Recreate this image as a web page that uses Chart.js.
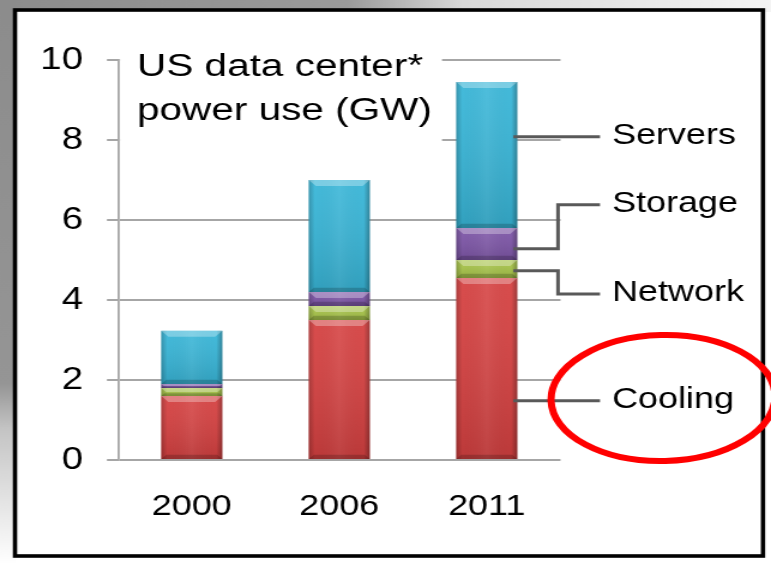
<!DOCTYPE html>
<html>
<head>
<meta charset="utf-8">
<script src="https://cdn.jsdelivr.net/npm/chart.js@4.4.1/dist/chart.umd.min.js"></script>
<style>
  html, body { margin: 0; padding: 0; background: #fff; overflow: hidden; }
  /* the slide was stretched sideways, so the canvas is too */
  #wrap { width: 643px; height: 564px; transform: scaleX(1.19907); transform-origin: 0 0; }
  canvas { display: block; }
</style>
</head>
<body>
<div id="wrap"><canvas id="chart" width="643" height="564"></canvas></div>
<script>
const years = ["2000", "2006", "2011"];
const cooling = [1.6, 3.5, 4.55];
const network = [0.2, 0.35, 0.45];
const storage = [0.1, 0.35, 0.8];
const servers = [1.33, 2.8, 3.65];
const titleLines = ["US data center*", "power use (GW)"];

// leader lines on the right: where they touch the 2011 bar, and where the label sits
const leaders = [
  { name: "Cooling", at: 1.48, line: 1.48 },
  { name: "Network", at: 4.73, line: 4.15 },
  { name: "Storage", at: 5.28, line: 6.38 },
  { name: "Servers", at: 8.08, line: 8.08 }
];

const SX = 771 / 643;
const px = x => x / SX;   // reference x -> canvas x
const FONT = "'Liberation Sans', Arial, sans-serif";

function bevel(ctx, bar) {
  const l = bar.x - bar.width / 2, r = bar.x + bar.width / 2;
  const t = Math.min(bar.y, bar.base), b = Math.max(bar.y, bar.base);
  const h = b - t;
  if (h <= 0) return;
  const e = Math.min(6, h / 2);

  let g = ctx.createLinearGradient(l, 0, r, 0);
  g.addColorStop(0, "rgba(0,0,0,0.22)");
  g.addColorStop(0.1, "rgba(0,0,0,0)");
  g.addColorStop(0.5, "rgba(255,255,255,0.06)");
  g.addColorStop(0.9, "rgba(0,0,0,0)");
  g.addColorStop(1, "rgba(0,0,0,0.3)");
  ctx.fillStyle = g;
  ctx.fillRect(l, t, r - l, h);

  g = ctx.createLinearGradient(0, t, 0, b);
  g.addColorStop(0, "rgba(255,255,255,0.06)");
  g.addColorStop(1, "rgba(0,0,0,0.12)");
  ctx.fillStyle = g;
  ctx.fillRect(l, t, r - l, h);

  ctx.fillStyle = "rgba(255,255,255,0.3)";
  ctx.beginPath();
  ctx.moveTo(l, t); ctx.lineTo(r, t); ctx.lineTo(r - e, t + e); ctx.lineTo(l + e, t + e);
  ctx.closePath(); ctx.fill();

  ctx.fillStyle = "rgba(0,0,0,0.18)";
  ctx.beginPath();
  ctx.moveTo(l, b); ctx.lineTo(r, b); ctx.lineTo(r - e * 0.7, b - e * 0.7); ctx.lineTo(l + e * 0.7, b - e * 0.7);
  ctx.closePath(); ctx.fill();
}

const deco = {
  id: "deco",
  beforeDraw(chart) {
    const ctx = chart.ctx;
    const W = chart.width, H = chart.height;
    ctx.save();
    ctx.fillStyle = "#fff";
    ctx.fillRect(0, 0, W, H);
    // photo behind the slide: grey on the top and left strips, fading out
    let g = ctx.createLinearGradient(0, 0, px(771), 0);
    g.addColorStop(0, "#8c8c8c");
    g.addColorStop(0.45, "#9a9a9a");
    g.addColorStop(0.6, "#d8d8d8");
    g.addColorStop(1, "#f4f4f4");
    ctx.fillStyle = g;
    ctx.fillRect(0, 0, W, 12);
    g = ctx.createLinearGradient(0, 0, 0, H);
    g.addColorStop(0, "#8c8c8c");
    g.addColorStop(0.68, "#959595");
    g.addColorStop(0.76, "#c4c4c4");
    g.addColorStop(1, "#ffffff");
    ctx.fillStyle = g;
    ctx.fillRect(0, 0, px(16), H);

    ctx.fillStyle = "#ffffff";
    ctx.fillRect(px(15), 10, px(763) - px(15), 546);
    ctx.strokeStyle = "#000";
    ctx.lineWidth = 3.6;
    ctx.strokeRect(px(15), 10, px(763) - px(15), 546);
    ctx.restore();
  },
  afterDatasetsDraw(chart) {
    const ctx = chart.ctx;
    ctx.save();
    chart.data.datasets.forEach((ds, i) => {
      chart.getDatasetMeta(i).data.forEach(bar => bevel(ctx, bar));
    });
    // title sits on a white box that hides the grid behind it
    ctx.fillStyle = "#fff";
    ctx.fillRect(px(120), 44, px(442) - px(120), 108);
    ctx.fillStyle = "#000";
    ctx.font = "31px " + FONT;
    ctx.textBaseline = "alphabetic";
    ctx.textAlign = "left";
    const k = 1.09;
    ctx.scale(k, 1);
    ctx.fillText(titleLines[0], px(137) / k, 76);
    ctx.fillText(titleLines[1], px(137) / k, 120);
    ctx.restore();
  },
  afterDraw(chart) {
    const ctx = chart.ctx;
    const y = chart.scales.y;
    const meta = chart.getDatasetMeta(0).data;
    const last = meta[meta.length - 1];
    const x0 = last.x + last.width / 2 - px(4);
    const xe = px(558), x1 = px(600);
    ctx.save();
    ctx.strokeStyle = "#595959";
    ctx.lineWidth = 3;
    ctx.lineJoin = "miter";
    ctx.fillStyle = "#000";
    ctx.font = "30px " + FONT;
    ctx.textBaseline = "middle";
    ctx.textAlign = "left";
    leaders.forEach(ld => {
      const ya = y.getPixelForValue(ld.at), yl = y.getPixelForValue(ld.line);
      ctx.beginPath();
      ctx.moveTo(x0, ya);
      if (Math.abs(ya - yl) > 1) {
        ctx.lineTo(xe, ya);
        ctx.lineTo(xe, yl);
      }
      ctx.lineTo(x1, yl);
      ctx.stroke();
      ctx.fillText(ld.name, px(612), yl - 1);
    });
    // red ring round "Cooling"
    ctx.strokeStyle = "#ff0000";
    ctx.lineWidth = 6;
    ctx.beginPath();
    ctx.ellipse(px(663), 398, 112 / SX, 63, -0.03, 0, Math.PI * 2);
    ctx.stroke();
    ctx.restore();
  }
};

const barOpts = { barPercentage: 0.414, categoryPercentage: 1, borderWidth: 0 };

new Chart(document.getElementById("chart"), {
  type: "bar",
  data: {
    labels: years,
    datasets: [
      { label: "Cooling", data: cooling, backgroundColor: "#d64141", ...barOpts },
      { label: "Network", data: network, backgroundColor: "#a9c64a", ...barOpts },
      { label: "Storage", data: storage, backgroundColor: "#7e56a8", ...barOpts },
      { label: "Servers", data: servers, backgroundColor: "#38b6d8", ...barOpts }
    ]
  },
  options: {
    responsive: false,
    animation: false,
    layout: { padding: { top: 60, right: 643 - px(560.5), left: 0, bottom: 0 } },
    plugins: {
      legend: { display: false },
      tooltip: { enabled: false }
    },
    scales: {
      x: {
        stacked: true,
        grid: { display: false, drawTicks: false },
        border: { display: false },
        ticks: { color: "#000", font: { family: FONT, size: 30 }, padding: 29 },
        afterFit: s => { s.height = 104; }
      },
      y: {
        stacked: true,
        min: 0,
        max: 10,
        ticks: { stepSize: 2, color: "#000", font: { family: FONT, size: 32 }, padding: 20 },
        grid: { color: "#a6a6a6", lineWidth: 2, tickLength: 9.2, tickColor: "#a6a6a6" },
        border: { color: "#a6a6a6", width: 1.8 },
        afterFit: s => { s.width = px(118); }
      }
    }
  },
  plugins: [deco]
});
</script>
</body>
</html>
